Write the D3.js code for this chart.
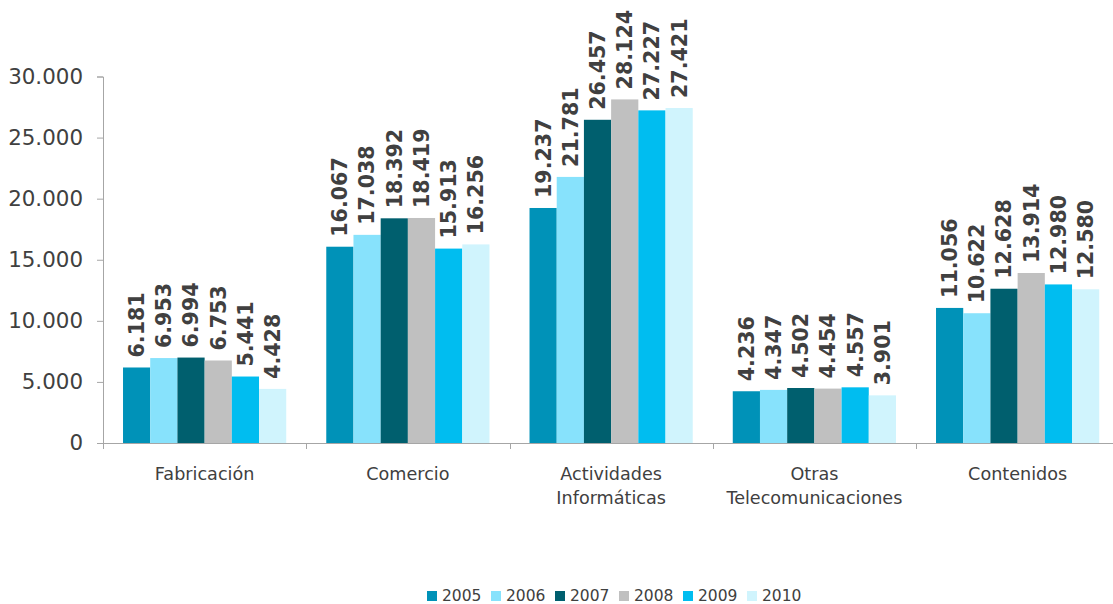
<!DOCTYPE html>
<html>
<head>
<meta charset="utf-8">
<script src="https://cdn.jsdelivr.net/npm/d3@7"></script>
<style>
  body { margin: 0; background: #fff; font-family: "DejaVu Sans", Verdana, sans-serif; }
  svg text { fill: #404040; }
</style>
</head>
<body>
<svg id="chart" width="1113" height="604"></svg>
<script>
const categories = [["Fabricación"], ["Comercio"], ["Actividades", "Informáticas"], ["Otras", "Telecomunicaciones"], ["Contenidos"]]
const years = ["2005", "2006", "2007", "2008", "2009", "2010"]
const values2005 = [6181, 16067, 19237, 4236, 11056]
const values2006 = [6953, 17038, 21781, 4347, 10622]
const values2007 = [6994, 18392, 26457, 4502, 12628]
const values2008 = [6753, 18419, 28124, 4454, 13914]
const values2009 = [5441, 15913, 27227, 4557, 12980]
const values2010 = [4428, 16256, 27421, 3901, 12580]
const yTicks = [0, 5000, 10000, 15000, 20000, 25000, 30000]
const colors = ["#0092b8", "#87e2fc", "#005f6e", "#c0c0c0", "#00bdf0", "#d0f4fd"]

const series = [values2005, values2006, values2007, values2008, values2009, values2010]

const svg = d3.select("#chart")
const width = 1113, height = 604
// the last category runs a little past the right edge, as in the original
const margin = { top: 76.5, left: 103, bottom: 161 }
const plotRight = margin.left + 5 * 203.25

const locale = d3.formatLocale({ decimal: ",", thousands: ".", grouping: [3] })
const fmt = locale.format(",d")

const x0 = d3.scaleBand()
  .domain(d3.range(categories.length))
  .range([margin.left, plotRight])
  .paddingInner(0).paddingOuter(0)

const x1 = d3.scaleBand()
  .domain(d3.range(years.length))
  .range([0, x0.bandwidth()])
  .paddingInner(0).paddingOuter(0.736)

const y = d3.scaleLinear()
  .domain([0, 30000])
  .range([height - margin.bottom, margin.top])

const axisColor = "#a6a6a6"

// y axis
const yAxis = svg.append("g")
  .attr("transform", `translate(${margin.left},0)`)
  .call(d3.axisLeft(y).tickValues(yTicks).tickFormat(fmt).tickSize(6).tickPadding(14))
yAxis.select(".domain").attr("stroke", axisColor)
yAxis.selectAll(".tick line").attr("stroke", axisColor)
yAxis.selectAll(".tick text")
  .attr("font-size", 21.4)
  .attr("font-family", "DejaVu Sans, Verdana, sans-serif")
  .style("fill", "#404040")

// x axis
const xg = svg.append("g")
svg.append("line")
  .attr("x1", margin.left).attr("x2", width)
  .attr("y1", y(0) + 0.5).attr("y2", y(0) + 0.5)
  .attr("stroke", axisColor)
xg.selectAll("line.tick")
  .data(d3.range(categories.length + 1))
  .join("line")
  .attr("x1", i => Math.round(margin.left + i * x0.step()) + 0.5)
  .attr("x2", i => Math.round(margin.left + i * x0.step()) + 0.5)
  .attr("y1", y(0))
  .attr("y2", y(0) + 6)
  .attr("stroke", axisColor)

// category labels
categories.forEach((lines, i) => {
  const t = svg.append("text")
    .attr("x", x0(i) + x0.bandwidth() / 2)
    .attr("y", 479.5)
    .attr("text-anchor", "middle")
    .attr("font-size", 17.6)
  lines.forEach((ln, j) => {
    t.append("tspan")
      .attr("x", x0(i) + x0.bandwidth() / 2)
      .attr("dy", j === 0 ? 0 : 24)
      .text(ln)
  })
})

// bars
series.forEach((vals, s) => {
  svg.append("g").selectAll("rect")
    .data(vals)
    .join("rect")
    .attr("x", (d, i) => x0(i) + x1(s))
    .attr("width", x1.bandwidth())
    .attr("y", d => y(d))
    .attr("height", d => y(0) - y(d))
    .attr("fill", colors[s])

  svg.append("g").selectAll("text")
    .data(vals)
    .join("text")
    .attr("transform", (d, i) => `translate(${x0(i) + x1(s) + x1.bandwidth() / 2},${y(d) - 10}) rotate(-90)`)
    .attr("dy", "0.36em")
    .attr("font-size", 20.6)
    .attr("font-weight", "bold")
    .text(d => fmt(d))
})

// legend
const legend = svg.append("g")
years.forEach((yr, i) => {
  const lx = 427 + i * 64
  legend.append("rect")
    .attr("x", lx).attr("y", 591)
    .attr("width", 10).attr("height", 10)
    .attr("fill", colors[i])
  legend.append("text")
    .attr("x", lx + 15).attr("y", 601)
    .attr("font-size", 15.5)
    .text(yr)
})
</script>
</body>
</html>
